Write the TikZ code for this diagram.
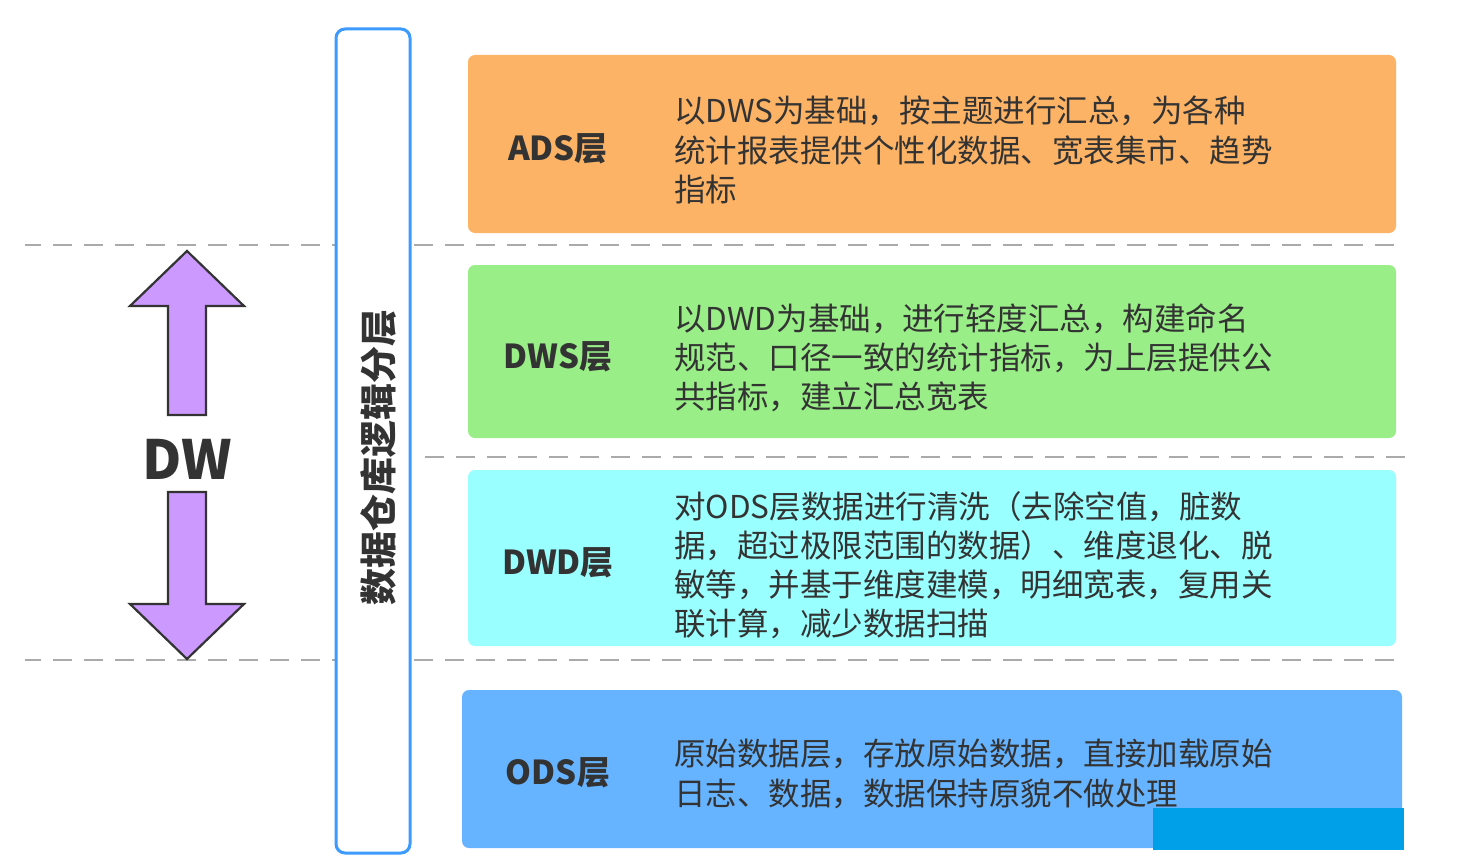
\documentclass[tikz,border=0pt]{standalone}
\usepackage{fontspec}
\setmainfont{Noto Sans CJK SC}
\usetikzlibrary{positioning}
\definecolor{txt}{HTML}{333333}
\definecolor{adsc}{HTML}{FDB366}
\definecolor{dwsc}{HTML}{99EE88}
\definecolor{dwdc}{HTML}{99FFFF}
\definecolor{odsc}{HTML}{66B3FF}
\definecolor{framec}{HTML}{3D9BFF}
\definecolor{arrowc}{HTML}{CC99FF}
\definecolor{dashc}{HTML}{AAAAAA}
\definecolor{patchc}{HTML}{00A0E9}
\tikzset{
  layerbox/.style={rounded corners=7pt, draw=none},
  layerlabel/.style={font=\bfseries\fontsize{33}{38}\selectfont, text=txt, inner sep=0pt},
  layertext/.style={font=\fontsize{31.5}{39.2}\selectfont, text=txt, align=left, anchor=west, inner sep=0pt},
  sepline/.style={draw=dashc, line width=1.5pt, dash pattern=on 19pt off 12pt},
  bigarrow/.style={fill=arrowc, draw=txt, line width=2.2pt, line join=miter}
}
\begin{document}
\begin{tikzpicture}[x=1pt,y=-1pt]
\useasboundingbox (0,0) rectangle (1464,856);
\fill[white] (0,0) rectangle (1464,856);

% dashed separators
\draw[sepline, dash phase=3pt] (25,245) -- (335,245);
\draw[sepline] (414,245) -- (1405,245);
\draw[sepline] (425,457) -- (1405,457);
\draw[sepline, dash phase=3pt] (25,660) -- (335,660);
\draw[sepline] (414,660) -- (1405,660);

% vertical frame
\draw[draw=framec, line width=3pt, fill=white, rounded corners=9pt] (336,29) rectangle (410,853);
\node[font=\bfseries\fontsize{37}{40}\selectfont, text=txt, rotate=90, inner sep=0pt] (title) at (379,457) {数据仓库逻辑分层};

% layer boxes
\fill[layerbox, fill=adsc] (468,55) rectangle (1396,233);
\fill[layerbox, fill=dwsc] (468,265) rectangle (1396,438);
\fill[layerbox, fill=dwdc] (468,470) rectangle (1396,646);
\fill[layerbox, fill=odsc] (462,690) rectangle (1402,848);

\node[layerlabel] (ads) at (558,149) {ADS层};
\node[layerlabel] (dws) at (558,357) {DWS层};
\node[layerlabel] (dwd) at (558,563) {DWD层};
\node[layerlabel] (ods) at (558,773) {ODS层};

\node[layertext] (adst) at (674,150) {以DWS为基础，按主题进行汇总，为各种\\统计报表提供个性化数据、宽表集市、趋势\\指标};
\node[layertext] (dwst) at (674,358) {以DWD为基础，进行轻度汇总，构建命名\\规范、口径一致的统计指标，为上层提供公\\共指标，建立汇总宽表};
\node[layertext] (dwdt) at (674,565) {对ODS层数据进行清洗（去除空值，脏数\\据，超过极限范围的数据）、维度退化、脱\\敏等，并基于维度建模，明细宽表，复用关\\联计算，减少数据扫描};
\node[layertext] (odst) at (674,774) {原始数据层，存放原始数据，直接加载原始\\日志、数据，数据保持原貌不做处理};

\fill[patchc] (1153,808) rectangle (1404,850);

% DW arrows
\draw[bigarrow] (187,251) -- (244,306) -- (206,306) -- (206,415) -- (168,415) -- (168,306) -- (130,306) -- cycle;
\draw[bigarrow] (187,659) -- (244,604) -- (206,604) -- (206,492) -- (168,492) -- (168,604) -- (130,604) -- cycle;
\node[font=\bfseries\fontsize{54}{60}\selectfont, text=txt, inner sep=0pt] (dw) at (187,459) {DW};
\end{tikzpicture}
\end{document}
